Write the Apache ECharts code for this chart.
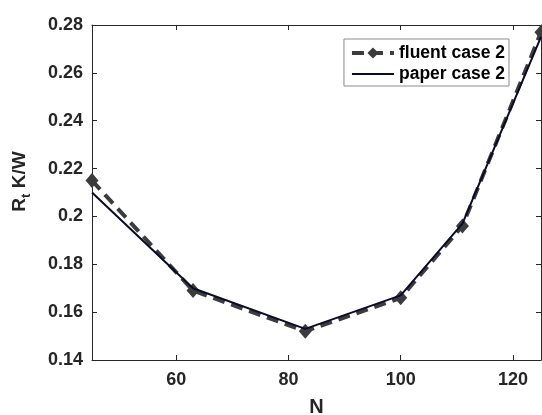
<!DOCTYPE html>
<html>
<head>
<meta charset="utf-8">
<script src="https://cdn.jsdelivr.net/npm/echarts@6/dist/echarts.min.js"></script>
<style>
  html, body { margin: 0; padding: 0; background: #fff; }
  #chart { width: 542px; height: 415px; }
</style>
</head>
<body>
<div id="chart"></div>
<script>
// Thermal resistance vs. number of channels N
const nValues = [45, 63, 83, 100, 111, 125];
const fluentValues = [0.215, 0.169, 0.152, 0.166, 0.196, 0.277];
const paperValues = [0.210, 0.170, 0.153, 0.167, 0.197, 0.275];
const xTicks = [60, 80, 100, 120];
const seriesNames = ['fluent case 2', 'paper case 2'];

const FONT = 'Liberation Sans, Arial, sans-serif';
const AXIS_COLOR = '#262626';
const FLUENT_COLOR = '#3c3c3c';
const PAPER_COLOR = '#0a0a2a';

function pairs(xs, ys) { return xs.map((x, i) => [x, ys[i]]); }
function fmtY(v) { return String(parseFloat(v.toFixed(2))); }

const chart = echarts.init(document.getElementById('chart'));

const baseX = {
  type: 'value', min: 45, max: 125,
  axisLine: { show: true, lineStyle: { color: AXIS_COLOR, width: 1 } },
  axisTick: { show: true, inside: true, length: 5, customValues: xTicks, lineStyle: { color: AXIS_COLOR } },
  splitLine: { show: false }
};
const baseY = {
  type: 'value', min: 0.14, max: 0.28, interval: 0.02,
  axisLine: { show: true, lineStyle: { color: AXIS_COLOR, width: 1 } },
  axisTick: { show: true, inside: true, length: 5, lineStyle: { color: AXIS_COLOR } },
  splitLine: { show: false }
};

chart.setOption({
  animation: false,
  backgroundColor: '#fff',
  grid: { left: 92, right: 1, top: 25, bottom: 55, containLabel: false, outerBoundsMode: 'none' },
  xAxis: [
    Object.assign({}, baseX, {
      position: 'bottom',
      name: 'N', nameLocation: 'middle', nameGap: 37,
      nameTextStyle: { fontFamily: FONT, fontWeight: 'bold', fontSize: 20, color: AXIS_COLOR },
      axisLabel: { show: true, customValues: xTicks, margin: 11, fontFamily: FONT, fontWeight: 'bold', fontSize: 18, color: AXIS_COLOR }
    }),
    Object.assign({}, baseX, { position: 'top', axisLabel: { show: false } })
  ],
  yAxis: [
    Object.assign({}, baseY, {
      position: 'left',
      name: '{r|R}{s|t}{r| K/W}', nameLocation: 'middle', nameGap: 60,
      nameTextStyle: {
        fontFamily: FONT, fontWeight: 'bold', fontSize: 19, color: AXIS_COLOR,
        padding: [0, 0, 0, 22],
        rich: {
          r: { fontFamily: FONT, fontWeight: 'bold', fontSize: 19, color: AXIS_COLOR, lineHeight: 24 },
          s: { fontFamily: FONT, fontWeight: 'bold', fontSize: 13, color: AXIS_COLOR, padding: [12, 0, 0, 0], lineHeight: 24 }
        }
      },
      axisLabel: { show: true, margin: 9, formatter: fmtY, fontFamily: FONT, fontWeight: 'bold', fontSize: 18, color: AXIS_COLOR }
    }),
    Object.assign({}, baseY, { position: 'right', axisLabel: { show: false } })
  ],
  legend: {
    orient: 'vertical', right: 33, top: 39,
    backgroundColor: '#fff', borderColor: '#8c8c8c', borderWidth: 1, borderRadius: 0,
    padding: [5, 4, 3, 6], itemGap: 3, itemWidth: 42, itemHeight: 14,
    textStyle: { fontFamily: FONT, fontWeight: 'bold', fontSize: 17.5, color: '#000' },
    data: [
      { name: seriesNames[0], lineStyle: { width: 4 } },
      { name: seriesNames[1], itemStyle: { opacity: 0 }, lineStyle: { width: 2 } }
    ]
  },
  series: [
    {
      name: seriesNames[0], type: 'line', data: pairs(nValues, fluentValues),
      clip: false, z: 2,
      symbol: 'diamond', symbolSize: [13, 15],
      itemStyle: { color: FLUENT_COLOR },
      lineStyle: { color: FLUENT_COLOR, width: 4, type: [12, 7] }
    },
    {
      name: seriesNames[1], type: 'line', data: pairs(nValues, paperValues),
      clip: false, z: 3,
      symbol: 'none', showSymbol: false,
      itemStyle: { color: PAPER_COLOR },
      lineStyle: { color: PAPER_COLOR, width: 2 }
    }
  ]
});
</script>
</body>
</html>
